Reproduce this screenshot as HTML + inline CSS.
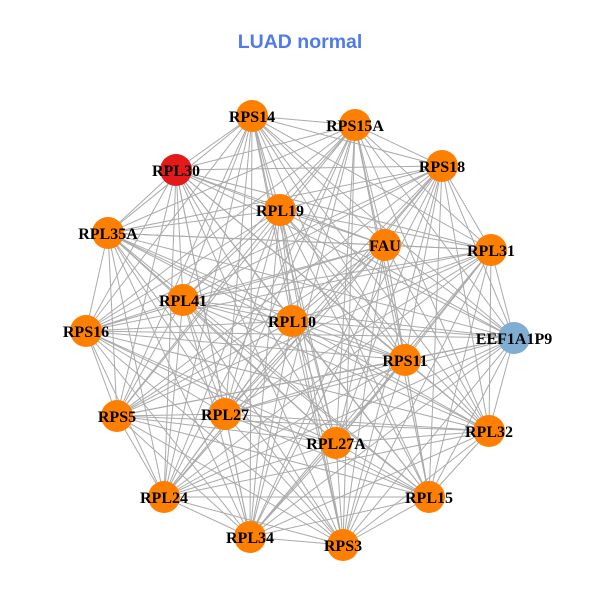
<!DOCTYPE html>
<html><head><meta charset="utf-8"><style>body{margin:0;background:#fff}svg{display:block}</style></head>
<body>
<svg id="g" width="600" height="600" xmlns="http://www.w3.org/2000/svg">
<rect width="600" height="600" fill="#fff"/>
<text x="300" y="48" text-anchor="middle" font-family="Liberation Sans, sans-serif" font-weight="bold" font-size="19.5" fill="#4F7BEA">LUAD normal</text>
<g id="e" stroke="#aaaaaa" stroke-width="1"></g>
<g id="n"></g>
</svg>
<script>
var N=[["RPS14",252,116],["RPS15A",355,125],["RPS18",442,166],["RPL30",176,170,"#E31A1C"],["RPL19",280,210],["FAU",385,245],["RPL35A",108,233],["RPL31",491,250],["RPL41",183,300],["RPL10",292,321],["RPS16",86,331],["EEF1A1P9",514,338,"#80ADD2"],["RPS11",405,360],["RPS5",117,416],["RPL27",225,414],["RPL32",489,431],["RPL27A",336,443],["RPL24",164,497],["RPL15",429,497],["RPL34",250,537],["RPS3",343,545]];
var ns="http://www.w3.org/2000/svg",E=document.getElementById("e"),G=document.getElementById("n");
for(var i=0;i<N.length;i++)for(var j=i+1;j<N.length;j++){var l=document.createElementNS(ns,"line");l.setAttribute("x1",N[i][1]);l.setAttribute("y1",N[i][2]);l.setAttribute("x2",N[j][1]);l.setAttribute("y2",N[j][2]);E.appendChild(l);}
N.forEach(function(d){var c=document.createElementNS(ns,"circle");c.setAttribute("cx",d[1]);c.setAttribute("cy",d[2]);c.setAttribute("r",16);c.setAttribute("fill",d[3]||"#FF7F00");G.appendChild(c);});
N.forEach(function(d){var t=document.createElementNS(ns,"text");t.setAttribute("x",d[1]);t.setAttribute("y",d[2]+6);t.setAttribute("text-anchor","middle");t.setAttribute("font-family","Liberation Serif, serif");t.setAttribute("font-weight","bold");t.setAttribute("font-size","16");t.textContent=d[0];G.appendChild(t);});
</script>
</body></html>
